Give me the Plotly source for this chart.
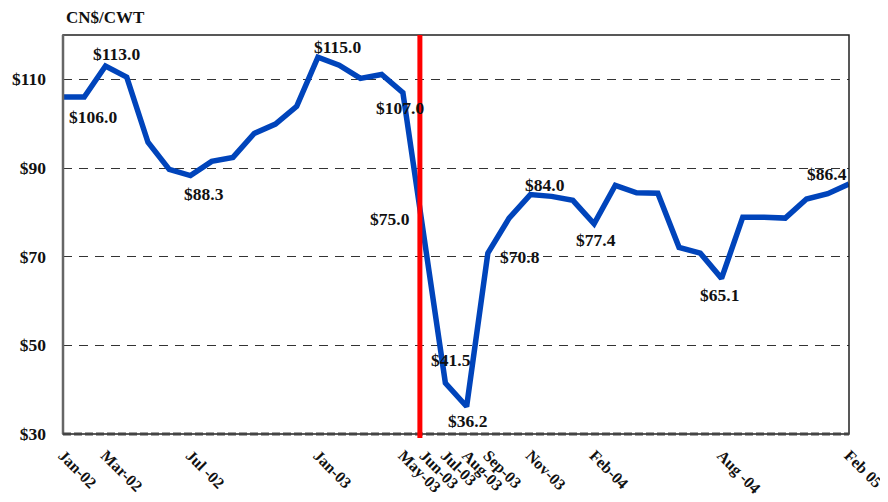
import plotly.graph_objects as go

months = ["Jan-02","Feb-02","Mar-02","Apr-02","May-02","Jun-02","Jul-02","Aug-02","Sep-02","Oct-02","Nov-02","Dec-02",
          "Jan-03","Feb-03","Mar-03","Apr-03","May-03","Jun-03","Jul-03","Aug-03","Sep-03","Oct-03","Nov-03","Dec-03",
          "Jan-04","Feb-04","Mar-04","Apr-04","May-04","Jun-04","Jul-04","Aug-04","Sep-04","Oct-04","Nov-04","Dec-04",
          "Jan-05","Feb-05"]
prices = [106.0, 106.0, 113.0, 110.5, 95.8, 89.7, 88.3, 91.5, 92.4, 97.8, 99.9, 103.9,
          115.0, 113.2, 110.2, 111.1, 107.0, 75.0, 41.5, 36.2, 70.8, 78.7, 84.0, 83.6,
          82.7, 77.4, 86.1, 84.4, 84.3, 72.1, 70.8, 65.1, 78.9, 78.9, 78.7, 83.0,
          84.2, 86.4]

tick_months = ["Jan-02","Mar-02","Jul-02","Jan-03","May-03","Jun-03","Jul-03","Aug-03","Sep-03","Nov-03","Feb-04","Aug-04","Feb-05"]
tick_labels = ["Jan-02","Mar-02","Jul -02","Jan-03","May-03","Jun-03","Jul-03","Aug-03","Sep-03","Nov-03","Feb-04","Aug -04","Feb 05"]

label_months = ["Feb-02","Mar-02","Jul-02","Jan-03","May-03","Jun-03","Jul-03","Aug-03","Sep-03","Nov-03","Feb-04","Aug-04","Feb-05"]
label_shift = [(9,-20),(11,12),(14,-18),(20,10),(-3,-15),(-34,16),(6,23),(1,-14),(32,-4),(15,10),(2,-16),(-2,-17),(-22,10)]

event_position = 16.8  # BSE discovery, May 2003
y_ticks = [30, 50, 70, 90, 110]

FONT = "Liberation Serif"
x = list(range(len(months)))

fig = go.Figure()
fig.add_trace(go.Scatter(x=x, y=prices, mode="lines",
                         line=dict(color="#0044bb", width=5.5), hoverinfo="skip", showlegend=False))

for m, (dx, dy) in zip(label_months, label_shift):
    i = months.index(m)
    fig.add_annotation(x=i, y=prices[i], xref="x", yref="y", text=f"${prices[i]:.1f}",
                       showarrow=False, xshift=dx, yshift=dy,
                       font=dict(family=FONT, size=17.5, color="#111", weight="bold"))

fig.add_annotation(x=0.001, y=1.045, xref="paper", yref="paper", text="CN$/CWT", showarrow=False,
                   xanchor="left", yanchor="middle",
                   font=dict(family=FONT, size=17, color="#111", weight="bold"))

# frame
fig.add_shape(type="rect", xref="paper", yref="paper", x0=0, x1=1, y0=0, y1=1,
              line=dict(color="#222", width=1.5), layer="above")
fig.add_shape(type="line", xref="paper", yref="paper", x0=0, x1=0, y0=0, y1=1,
              line=dict(color="#666", width=2.5), layer="above")
fig.add_shape(type="line", xref="paper", yref="paper", x0=0, x1=1, y0=0, y1=0,
              line=dict(color="#444", width=3, dash="8px,3px"), layer="above")
# event line
fig.add_shape(type="line", xref="x", yref="paper", x0=event_position, x1=event_position, y0=-0.01, y1=1,
              line=dict(color="#ff0000", width=5), layer="above")

fig.update_layout(
    width=880, height=494,
    margin=dict(l=55, r=39, t=27, b=68, autoexpand=False),
    paper_bgcolor="white", plot_bgcolor="white",
    xaxis=dict(range=[0, len(months) - 1], tickmode="array", automargin=False,
               tickvals=[months.index(m) for m in tick_months], ticktext=tick_labels,
               tickangle=45, showgrid=False, zeroline=False, showline=False, ticks="",
               ticklabelstandoff=8,
               tickfont=dict(family=FONT, size=16, color="#111", weight="bold")),
    yaxis=dict(range=[30, 120], tickmode="array", tickvals=y_ticks, automargin=False,
               ticktext=[f"${v}" for v in y_ticks],
               showgrid=True, gridcolor="#333", gridwidth=1.3, griddash="9px,7px",
               zeroline=False, showline=False, ticks="", ticklabelstandoff=16,
               tickfont=dict(family=FONT, size=17.5, color="#111", weight="bold")),
)

fig.write_html("out.html")
